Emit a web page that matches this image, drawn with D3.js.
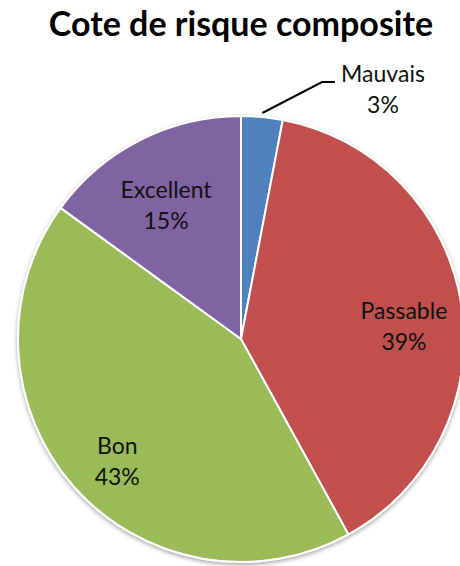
<!DOCTYPE html>
<html>
<head>
<meta charset="utf-8">
<script src="https://cdn.jsdelivr.net/npm/d3@7"></script>
<style>
  html, body { margin: 0; padding: 0; background: #fff; }
  svg { display: block; }
</style>
</head>
<body>
<svg id="chart" width="460" height="566"></svg>
<script>
const categories = ["Mauvais", "Passable", "Bon", "Excellent"];
const values = [3, 39, 43, 15];
const percentLabels = ["3%", "39%", "43%", "15%"];
const colors = ["#4F81BD", "#C0504D", "#9BBB59", "#8064A2"];
const title = "Cote de risque composite";

const W = 460, H = 566;
const cx = 241, cy = 339, R = 223;
const font = "Lato, 'Open Sans', sans-serif";

const svg = d3.select("#chart");

const defs = svg.append("defs");
const f = defs.append("filter").attr("id", "shadow")
  .attr("x", "-10%").attr("y", "-10%").attr("width", "120%").attr("height", "120%");
f.append("feDropShadow").attr("dx", 0).attr("dy", 2).attr("stdDeviation", 2)
  .attr("flood-color", "#000").attr("flood-opacity", 0.35);

svg.append("text")
  .attr("x", cx).attr("y", 36)
  .attr("text-anchor", "middle")
  .attr("font-family", font)
  .attr("font-weight", "bold")
  .attr("font-size", 34)
  .attr("fill", "#000")
  .text(title);

const data = categories.map((c, i) => ({ name: c, value: values[i], pct: percentLabels[i], color: colors[i] }));

const pie = d3.pie().sort(null).value(d => d.value);
const arcs = pie(data);
const arc = d3.arc().innerRadius(0).outerRadius(R);
const labelArc = d3.arc().innerRadius(165).outerRadius(165);

const g = svg.append("g").attr("transform", `translate(${cx},${cy})`);

g.append("g").attr("filter", "url(#shadow)")
  .selectAll("path")
  .data(arcs)
  .join("path")
  .attr("d", arc)
  .attr("fill", d => d.data.color)
  .attr("stroke", "#fff")
  .attr("stroke-width", 2)
  .attr("stroke-linejoin", "round");

const fs = 23;
// inside labels
arcs.forEach((d, i) => {
  if (d.data.value < 5) return;
  const [x, y] = labelArc.centroid(d);
  const t = g.append("text")
    .attr("text-anchor", "middle")
    .attr("font-family", font)
    .attr("font-size", fs)
    .attr("fill", "#111");
  t.append("tspan").attr("x", x).attr("y", y + 6).text(d.data.name);
  t.append("tspan").attr("x", x).attr("y", y + 37).text(d.data.pct);
});

// outside label with leader line (small slice)
arcs.forEach((d, i) => {
  if (d.data.value >= 5) return;
  const mid = (d.startAngle + d.endAngle) / 2;
  const r0 = R + 4;
  const p0 = [Math.sin(mid) * r0, -Math.cos(mid) * r0];
  const p1 = [322 - cx, 82 - cy];
  const p2 = [335 - cx, 82 - cy];
  g.append("polyline")
    .attr("points", [p0, p1, p2].map(p => p.join(",")).join(" "))
    .attr("fill", "none")
    .attr("stroke", "#000")
    .attr("stroke-width", 2);
  const lx = 383 - cx;
  const t = g.append("text")
    .attr("text-anchor", "middle")
    .attr("font-family", font)
    .attr("font-size", fs)
    .attr("fill", "#111");
  t.append("tspan").attr("x", lx).attr("y", 82 - cy).text(d.data.name);
  t.append("tspan").attr("x", lx).attr("y", 113 - cy).text(d.data.pct);
});
</script>
</body>
</html>
